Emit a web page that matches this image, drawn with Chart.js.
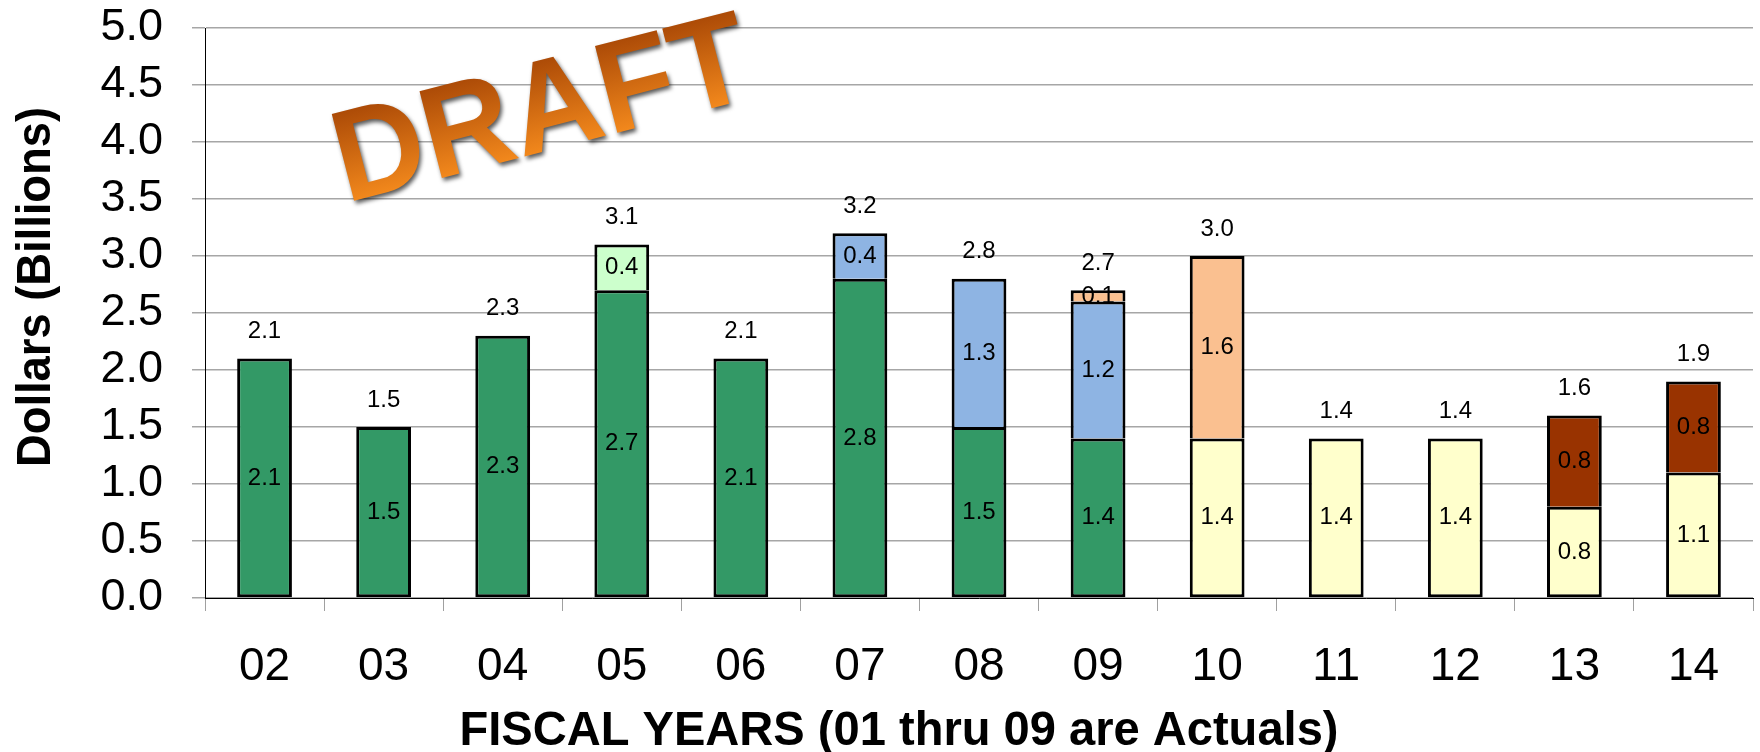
<!DOCTYPE html>
<html>
<head>
<meta charset="utf-8">
<script src="https://cdn.jsdelivr.net/npm/chart.js@4"></script>
<style>
  html, body { margin: 0; padding: 0; background: #fff; }
  #wrap { width: 1760px; height: 752px; }
</style>
</head>
<body>
<div id="wrap"><canvas id="funding-chart" width="1760" height="752"></canvas></div>
<script>
// fiscal years on the x axis
const fiscalYears = ["02", "03", "04", "05", "06", "07", "08", "09", "10", "11", "12", "13", "14"];

// stacked segments, bottom to top
const greenValues = [2.1, 1.5, 2.3, 2.7, 2.1, 2.8, 1.5, 1.4, null, null, null, null, null];
const lightGreenValues = [null, null, null, 0.4, null, null, null, null, null, null, null, null, null];
const blueValues = [null, null, null, null, null, 0.4, 1.3, 1.2, null, null, null, null, null];
const yellowValues = [null, null, null, null, null, null, null, null, 1.4, 1.4, 1.4, 0.8, 1.1];
const peachValues = [null, null, null, null, null, null, null, 0.1, 1.6, null, null, null, null];
const brownValues = [null, null, null, null, null, null, null, null, null, null, null, 0.8, 0.8];

// totals printed above each bar
const totals = [2.1, 1.5, 2.3, 3.1, 2.1, 3.2, 2.8, 2.7, 3.0, 1.4, 1.4, 1.6, 1.9];

const FONT = "'Liberation Sans', Arial, sans-serif";

// value labels inside segments + totals on top
const barLabels = {
    id: "barLabels",
    afterDatasetsDraw(chart) {
        const ctx = chart.ctx;
        ctx.save();
        ctx.fillStyle = "#000";
        ctx.font = "24px " + FONT;
        ctx.textAlign = "center";
        ctx.textBaseline = "middle";
        chart.data.datasets.forEach((ds, i) => {
            const meta = chart.getDatasetMeta(i);
            meta.data.forEach((bar, j) => {
                const v = ds.data[j];
                if (v == null) return;
                const p = bar.getProps(["x", "y", "base"], true);
                ctx.fillText(v.toFixed(1), p.x, (p.y + p.base) / 2);
            });
        });
        const yScale = chart.scales.y;
        const xScale = chart.scales.x;
        totals.forEach((t, j) => {
            ctx.fillText(t.toFixed(1), xScale.getPixelForValue(j), yScale.getPixelForValue(t) - 27);
        });
        ctx.restore();
    },
};

// axis titles + DRAFT stamp
const decorations = {
    id: "decorations",
    afterDraw(chart) {
        const ctx = chart.ctx;
        ctx.save();
        ctx.fillStyle = "#000";
        ctx.font = "bold 48px " + FONT;
        ctx.textAlign = "center";
        ctx.textBaseline = "alphabetic";
        ctx.fillText("FISCAL YEARS (01 thru 09 are Actuals)", 899, 745, 879);

        ctx.save();
        ctx.translate(50, 287);
        ctx.rotate(-Math.PI / 2);
        ctx.fillText("Dollars (Billions)", 0, 0, 360);
        ctx.restore();

        // DRAFT
        ctx.translate(540, 104);
        ctx.rotate((-14.5 * Math.PI) / 180);
        ctx.font = "bold 130px " + FONT;
        const grad = ctx.createLinearGradient(0, -47, 0, 47);
        grad.addColorStop(0, "#A94806");
        grad.addColorStop(1, "#F2881C");
        ctx.shadowColor = "rgba(0,0,0,0.65)";
        ctx.shadowBlur = 4;
        ctx.shadowOffsetX = 2;
        ctx.shadowOffsetY = 3;
        ctx.fillStyle = grad;
        ctx.fillText("DRAFT", 0, 47, 425);
        ctx.restore();
    },
};

// only the lowest segment of a stack gets a bottom edge, so joins stay one line thick
const segmentBorder = (c) => {
    const ds = c.chart.data.datasets;
    let lowest = true;
    for (let k = 0; k < c.datasetIndex; k++) {
        if (ds[k].data[c.dataIndex] != null) lowest = false;
    }
    return { top: 3, left: 3, right: 3, bottom: lowest ? 3 : 0 };
};

const makeSet = (label, data, color) => ({
    label: label,
    data: data,
    backgroundColor: color,
    borderColor: "#000",
    borderWidth: segmentBorder,
    borderSkipped: false,
});

const ctx = document.getElementById("funding-chart").getContext("2d");
new Chart(ctx, {
    type: "bar",
    data: {
        labels: fiscalYears,
        datasets: [
            makeSet("Actuals", greenValues, "#339966"),
            makeSet("Supplemental", lightGreenValues, "#CCFFCC"),
            makeSet("Blue", blueValues, "#8EB4E3"),
            makeSet("Base", yellowValues, "#FFFFCC"),
            makeSet("Peach", peachValues, "#FAC090"),
            makeSet("Brown", brownValues, "#993300"),
        ],
    },
    options: {
        responsive: false,
        animation: false,
        layout: { padding: { top: 28, right: 7, left: 0, bottom: 0 } },
        plugins: {
            legend: { display: false },
            tooltip: { enabled: false },
        },
        datasets: {
            bar: { categoryPercentage: 1, barPercentage: 0.46 },
        },
        scales: {
            x: {
                stacked: true,
                afterFit: (scale) => {
                    scale.height = 154;
                    scale.paddingLeft = 0;
                    scale.paddingRight = 0;
                },
                grid: {
                    display: true,
                    drawOnChartArea: false,
                    offset: true,
                    tickLength: 13,
                    color: "#A0A0A0",
                },
                border: { color: "#000", width: 1 },
                ticks: {
                    color: "#000",
                    padding: 29,
                    font: { family: FONT, size: 46 },
                    maxRotation: 0,
                    autoSkip: false,
                },
            },
            y: {
                stacked: true,
                min: 0,
                max: 5,
                afterFit: (scale) => {
                    scale.width = 205;
                    scale.paddingTop = 0;
                    scale.paddingBottom = 0;
                },
                grid: {
                    color: "#A6A6A6",
                    lineWidth: 1.5,
                    tickLength: 13,
                },
                border: { color: "#000", width: 1 },
                ticks: {
                    stepSize: 0.5,
                    autoSkip: false,
                    color: "#000",
                    padding: 29,
                    font: { family: FONT, size: 45 },
                    callback: (v) => Number(v).toFixed(1),
                },
            },
        },
    },
    plugins: [barLabels, decorations],
});
</script>
</body>
</html>
